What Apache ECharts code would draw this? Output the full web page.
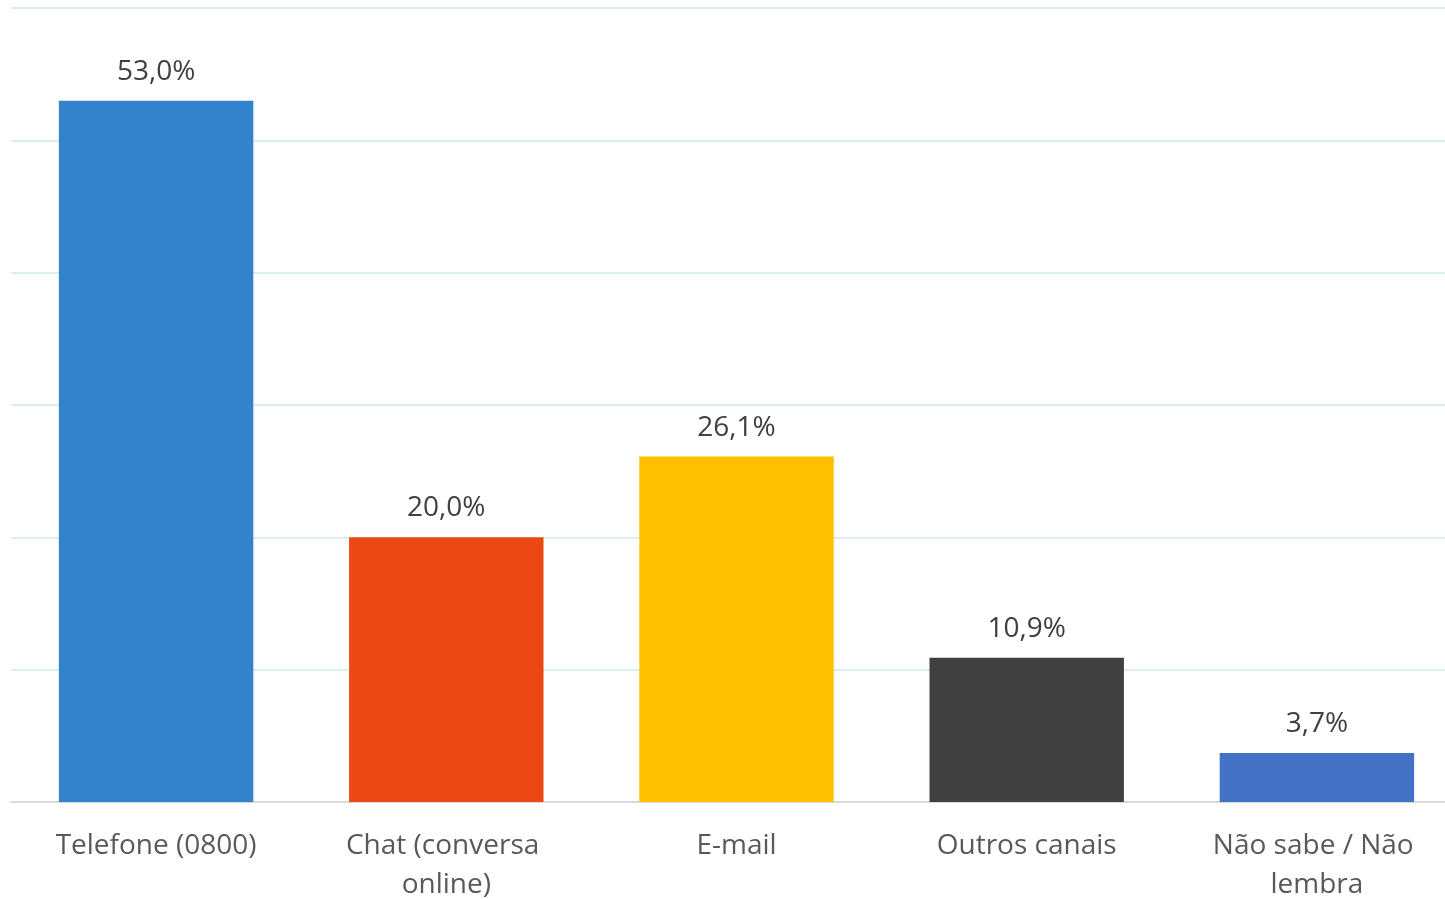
<!DOCTYPE html>
<html>
<head>
<meta charset="utf-8">
<script src="https://cdn.jsdelivr.net/npm/echarts@6/dist/echarts.min.js"></script>
<style>
  html, body { margin: 0; padding: 0; background: #ffffff; overflow: hidden; }
  #chart { width: 1445px; height: 899px; }
</style>
</head>
<body>
<div id="chart"></div>
<script>
// Canais de atendimento utilizados (%)
var categories = ['Telefone (0800)', 'Chat (conversa online)', 'E-mail', 'Outros canais', 'Não sabe / Não lembra'];
var values = [53.0, 20.0, 26.1, 10.9, 3.7];
var barColors = ['#3383CC', '#EC4815', '#FFC000', '#404040', '#4472C4'];

var fontFamily = '"Open Sans", "Noto Sans", sans-serif';

var chart = echarts.init(document.getElementById('chart'));
chart.setOption({
  animation: false,
  backgroundColor: '#ffffff',
  grid: { left: 11, right: -17, top: 8, bottom: 97, containLabel: false, outerBoundsMode: 'none' },
  xAxis: {
    type: 'category',
    data: categories,
    axisLine: { show: true, lineStyle: { color: '#d9d9d9', width: 2 } },
    axisTick: { show: false },
    axisLabel: {
      color: '#595959',
      fontFamily: fontFamily,
      fontSize: 28,
      lineHeight: 39,
      margin: 25,
      width: 266,
      overflow: 'break',
      interval: 0
    }
  },
  yAxis: {
    type: 'value',
    min: 0,
    max: 60,
    interval: 10,
    axisLabel: { show: false },
    axisLine: { show: false },
    axisTick: { show: false },
    splitLine: { lineStyle: { color: '#dcedf4', width: 2 } }
  },
  series: [{
    type: 'bar',
    data: values.map(function (v, i) {
      return { value: v, itemStyle: { color: barColors[i] } };
    }),
    barCategoryGap: '33%',
    label: {
      show: true,
      position: 'top',
      distance: 15,
      color: '#404040',
      fontFamily: fontFamily,
      fontSize: 28,
      formatter: function (p) {
        return p.value.toFixed(1).replace('.', ',') + '%';
      }
    }
  }]
});
</script>
</body>
</html>
